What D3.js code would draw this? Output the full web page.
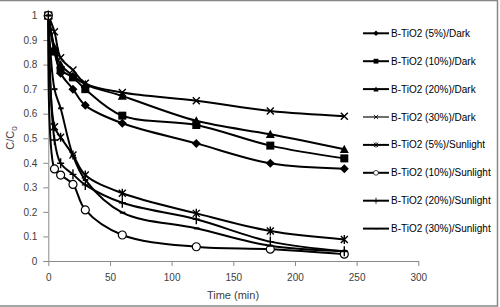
<!DOCTYPE html>
<html lang="en">
<head>
<meta charset="UTF-8">
<title>C/C0 vs Time</title>
<script src="https://d3js.org/d3.v7.min.js"></script>
<style>
    body { margin: 0; background: #fff; font-family: "Liberation Sans", Arial, sans-serif; }
    svg { display: block; }
    .axis text { font-size: 10px; fill: #404040; font-family: "Liberation Sans", Arial, sans-serif; }
    .axis path, .axis line { stroke: #898989; }
</style>
</head>
<body>
<svg width="500" height="307"></svg>
<script>
// time points (min)
var times = [0, 5, 10, 20, 30, 60, 120, 180, 240];

// series names and C/C0 values
var seriesNames = [
    "B-TiO2 (5%)/Dark", "B-TiO2 (10%)/Dark", "B-TiO2 (20%)/Dark", "B-TiO2 (30%)/Dark",
    "B-TiO2 (5%)/Sunlight", "B-TiO2 (10%)/Sunlight", "B-TiO2 (20%)/Sunlight", "B-TiO2 (30%)/Sunlight"
];
var dark5    = [1, 0.86, 0.765, 0.70, 0.634, 0.561, 0.479, 0.398, 0.376];
var dark10   = [1, 0.853, 0.778, 0.748, 0.70, 0.592, 0.554, 0.47, 0.418];
var dark20   = [1, 0.87, 0.80, 0.755, 0.72, 0.672, 0.571, 0.516, 0.455];
var dark30   = [1, 0.934, 0.828, 0.778, 0.724, 0.686, 0.653, 0.611, 0.59];
var sun5     = [1, 0.547, 0.504, 0.432, 0.35, 0.276, 0.194, 0.122, 0.088];
var sun10    = [1, 0.375, 0.35, 0.312, 0.208, 0.106, 0.058, 0.048, 0.028];
var sun20    = [1, 0.493, 0.398, 0.353, 0.31, 0.237, 0.17, 0.079, 0.04];
var sun30    = [1, 0.70, 0.622, 0.43, 0.33, 0.197, 0.133, 0.062, 0.04];
var seriesValues = [dark5, dark10, dark20, dark30, sun5, sun10, sun20, sun30];
var markers = ["diamond", "square", "triangle", "x", "asterisk", "circle", "plus", "dash"];

var xTicks = [0, 50, 100, 150, 200, 250, 300];
var yTicks = [0, 0.1, 0.2, 0.3, 0.4, 0.5, 0.6, 0.7, 0.8, 0.9, 1];

var svg = d3.select("svg");

// chart frame
svg.append("rect")
    .attr("x", -2).attr("y", 0.5)
    .attr("width", 499.5).attr("height", 305.5)
    .attr("fill", "none").attr("stroke", "#878787").attr("stroke-width", 1.5);

var x = d3.scaleLinear().domain([0, 300]).range([48.3, 418.3]);
var y = d3.scaleLinear().domain([0, 1]).range([261, 15.5]);

svg.append("g")
    .attr("class", "axis")
    .attr("transform", "translate(0,261)")
    .call(d3.axisBottom(x).tickValues(xTicks).tickSize(5).tickSizeOuter(0).tickPadding(6))
    .call(g => g.selectAll("text").attr("dy", "0.9em"));

svg.append("g")
    .attr("class", "axis")
    .attr("transform", "translate(48.3,0)")
    .call(d3.axisLeft(y).tickValues(yTicks).tickSize(5).tickSizeOuter(0).tickPadding(6)
        .tickFormat(d3.format("~g")));

// axis titles
svg.append("text")
    .attr("x", 233).attr("y", 299)
    .attr("text-anchor", "middle")
    .style("font-size", "11px").style("fill", "#404040")
    .text("Time (min)");

var yt = svg.append("text")
    .attr("transform", "translate(14,138) rotate(-90)")
    .attr("text-anchor", "middle")
    .style("font-size", "11px").style("fill", "#404040");
yt.append("tspan").text("C/C");
yt.append("tspan").attr("dy", 3).style("font-size", "8px").text("0");

// marker drawing
function drawMarker(g, type, s) {
    if (type === "diamond") {
        g.append("path").attr("d", "M0,-4.5L4.5,0L0,4.5L-4.5,0Z").attr("fill", "#000");
    } else if (type === "square") {
        g.append("rect").attr("x", -4).attr("y", -4).attr("width", 8).attr("height", 8).attr("fill", "#000");
    } else if (type === "triangle") {
        g.append("path").attr("d", "M0,-4.5L4.5,3.8L-4.5,3.8Z").attr("fill", "#000");
    } else if (type === "x") {
        g.append("path").attr("d", "M-3.5,-3.5L3.5,3.5M-3.5,3.5L3.5,-3.5").attr("stroke", "#000").attr("stroke-width", 1.4);
    } else if (type === "asterisk") {
        g.append("path").attr("d", "M-3.5,-3.5L3.5,3.5M-3.5,3.5L3.5,-3.5M0,-4.5L0,4.5").attr("stroke", "#000").attr("stroke-width", 1.4);
    } else if (type === "circle") {
        g.append("circle").attr("r", 4).attr("fill", "#fff").attr("stroke", "#000").attr("stroke-width", 1.2);
    } else if (type === "plus") {
        g.append("path").attr("d", "M0,-5L0,5M-3.5,0L3.5,0").attr("stroke", "#000").attr("stroke-width", 1.4);
    } else if (type === "dash") {
        g.append("path").attr("d", "M-2.5,0L3,0").attr("stroke", "#000").attr("stroke-width", 2);
    }
}

var line = d3.line()
    .x((d, i) => x(times[i]))
    .y(d => y(d))
    .curve(d3.curveCatmullRom.alpha(0.5));

var plot = svg.append("g");
seriesValues.forEach(function(vals, k) {
    plot.append("path")
        .datum(vals)
        .attr("fill", "none")
        .attr("stroke", "#000")
        .attr("stroke-width", 2)
        .attr("d", line);
});
seriesValues.forEach(function(vals, k) {
    vals.forEach(function(v, i) {
        var g = plot.append("g").attr("transform", "translate(" + x(times[i]) + "," + y(v) + ")");
        drawMarker(g, markers[k]);
    });
});

// legend
var legend = svg.append("g");
seriesNames.forEach(function(name, k) {
    var ly = 33.3 + k * 27.9;
    legend.append("line")
        .attr("x1", 363).attr("x2", 389).attr("y1", ly).attr("y2", ly)
        .attr("stroke", k === 3 ? "#6e6e6e" : "#000").attr("stroke-width", 2);
    var g = legend.append("g").attr("transform", "translate(376," + ly + ") scale(0.6)");
    drawMarker(g, markers[k]);
    legend.append("text")
        .attr("x", 391).attr("y", ly + 3.5)
        .style("font-size", "10px").style("fill", "#000")
        .text(name);
});
</script>
</body>
</html>
